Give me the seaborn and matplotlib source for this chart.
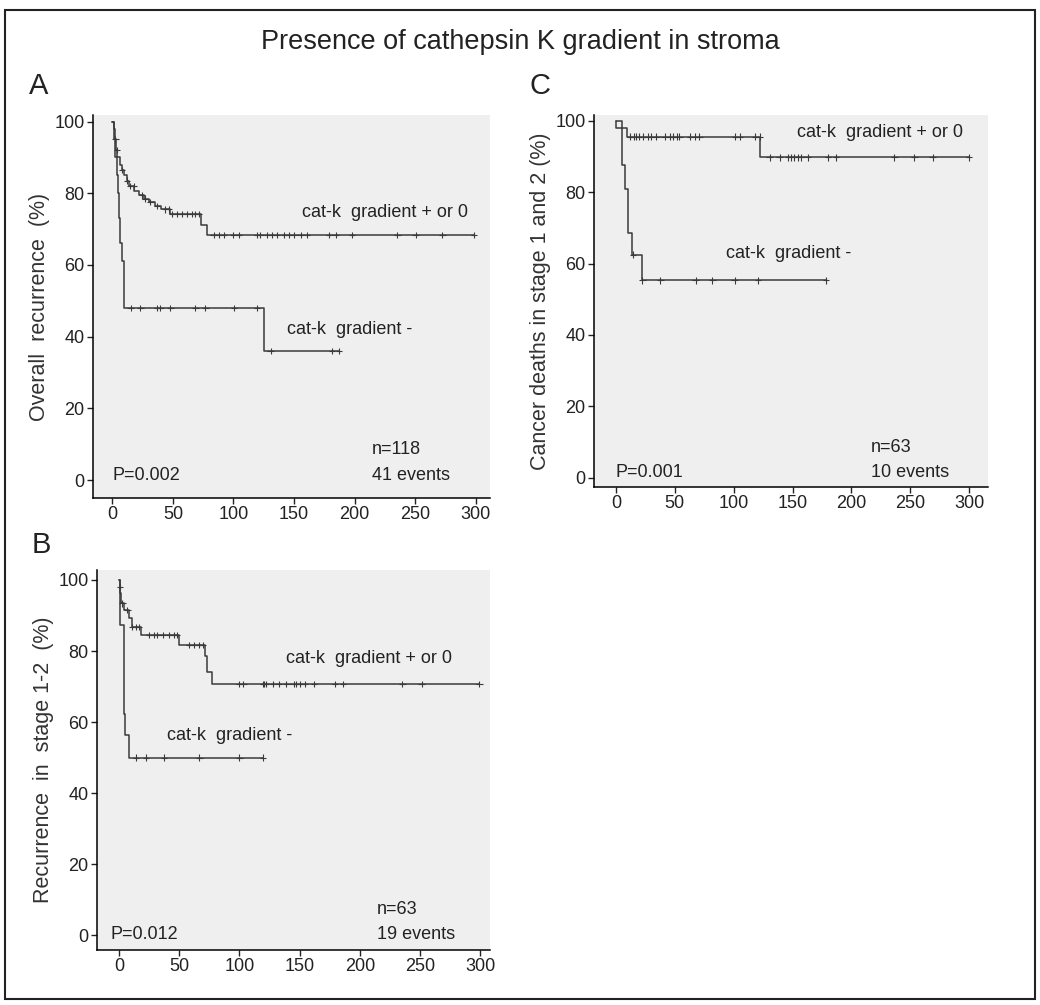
import numpy as np
import pandas as pd
import seaborn as sns
import matplotlib.pyplot as plt
from matplotlib.patches import Rectangle

# Panel A: overall recurrence
a_pos_t = [0, 1, 2, 3, 4, 6, 8, 10, 12, 14, 18, 22, 26, 30, 35, 40, 48, 73, 78]
a_pos_s = [100, 98, 95, 92, 90, 88, 86.5, 85, 83.5, 82, 80.5, 79.4, 78.5, 77.5, 76.5, 75.5, 74.2, 71, 68.3]
a_pos_c = [2.5, 3.9, 8, 12, 14.9, 17.6, 24.5, 27.3, 31.4, 37, 43.8, 46.6, 49.4, 53.4, 57.6, 61.7,
           65.8, 68.6, 71.3, 83.7, 87.9, 92, 100, 104.4, 119.6, 122.3, 127.9, 132, 136, 141.6,
           145.7, 149.8, 155.4, 160.9, 178.8, 184.3, 198, 235.3, 250.4, 272.5, 298.6]
a_neg_t = [0, 1.5, 2.5, 3.5, 4.5, 5.5, 6.5, 8, 9.5, 125]
a_neg_s = [100, 95, 90, 85, 80, 73, 66, 61, 48, 36]
a_neg_c = [15, 23.1, 36.9, 39.7, 48, 68.6, 76.9, 100.3, 119.6, 130.6, 181.5, 187]

# Panel B: recurrence in stage 1-2
b_pos_t = [0, 0.5, 1, 2, 4.2, 8.3, 11.1, 18, 50, 71, 73, 77.2]
b_pos_s = [100, 98, 96.3, 93.4, 91.5, 89.2, 86.8, 84.5, 81.7, 78.5, 74.2, 70.7]
b_pos_c = [0.8, 2.8, 7, 11.1, 13.9, 16.7, 25, 29.2, 31.9, 36.1, 41.7, 45.8, 47.8, 58.3, 62.5,
           66.7, 69.5, 100, 103.3, 119.4, 120.8, 122.2, 127.8, 132.8, 138.9, 145, 147.2, 150,
           154.2, 161.9, 179.2, 186.1, 235.3, 251.4, 299.4]
b_neg_t = [0, 1, 3.9, 5.3, 8.3]
b_neg_s = [100, 87.3, 62.4, 56.3, 50]
b_neg_c = [13.9, 22.2, 37.5, 66.7, 100, 119.4]

# Panel C: cancer deaths in stage 1 and 2
c_pos_t = [0, 4.8, 9.5, 122.6]
c_pos_s = [100, 97.9, 95.5, 89.7]
c_pos_c = [12, 15, 17.5, 20, 23, 27, 30, 34.5, 41.5, 46, 48.5, 51.5, 54, 63, 67, 71, 101, 105,
           118, 122, 130.5, 139, 146, 149, 151.5, 154.5, 157.5, 163, 180, 187, 236.5, 253.5,
           269, 300]
c_neg_t = [0, 0.3, 4.8, 7.6, 10.4, 13.3, 22.6]
c_neg_s = [100, 97.9, 87.5, 81, 68.5, 62.5, 55.3]
c_neg_c = [14.7, 22.6, 37.9, 67.8, 81.9, 100.8, 120.6, 178.6]

x_ticks = [0, 50, 100, 150, 200, 250, 300]
y_ticks = [0, 20, 40, 60, 80, 100]

sns.set_style("ticks")
plt.rcParams['font.family'] = ['Liberation Sans', 'DejaVu Sans']

LINE = '#3a3a3a'
TXT = '#222222'


def km_frames(times, surv, cens, group):
    t = list(times) + [max(cens[-1], times[-1])]
    s = list(surv) + [surv[-1]]
    line = pd.DataFrame({'time': t, 'surv': s, 'group': group})
    idx = np.searchsorted(times, cens, side='right') - 1
    marks = pd.DataFrame({'time': cens, 'surv': np.array(surv)[idx], 'group': group})
    return line, marks


def panel(ax, curves, xlim, ylim, ylabel, texts):
    lines, marks = [], []
    for name, (t, s, c) in curves.items():
        l, m = km_frames(t, s, c, name)
        lines.append(l)
        marks.append(m)
    ldf = pd.concat(lines)
    mdf = pd.concat(marks)
    pal = {k: LINE for k in curves}
    sns.lineplot(data=ldf, x='time', y='surv', hue='group', palette=pal, estimator=None,
                 sort=False, drawstyle='steps-post', lw=1.1, legend=False, ax=ax)
    sns.scatterplot(data=mdf, x='time', y='surv', hue='group', palette=pal, marker='+',
                    s=22, linewidth=0.8, legend=False, ax=ax, zorder=3)
    ax.set_facecolor('#efefef')
    ax.set_xlim(*xlim)
    ax.set_ylim(*ylim)
    ax.set_xticks(x_ticks)
    ax.set_yticks(y_ticks)
    ax.tick_params(direction='out', length=4, width=1, labelsize=13, colors=TXT, pad=2)
    for sp in ['top', 'right']:
        ax.spines[sp].set_visible(False)
    for sp in ['left', 'bottom']:
        ax.spines[sp].set_color('black')
        ax.spines[sp].set_linewidth(1.1)
    ax.set_xlabel('')
    ax.set_ylabel(ylabel, fontsize=15.5, color='#333333', labelpad=3)
    for x, y, s in texts:
        ax.text(x, y, s, fontsize=13, color=TXT, va='center', ha='left')


fig = plt.figure(figsize=(10.4, 10.05), dpi=100)

axA = fig.add_axes([0.0894, 0.5045, 0.3816, 0.381])
panel(axA,
      {'cat-k gradient + or 0': (a_pos_t, a_pos_s, a_pos_c),
       'cat-k gradient -': (a_neg_t, a_neg_s, a_neg_c)},
      (-16, 311.7), (-5, 101.8), 'Overall  recurrence  (%)',
      [(157, 74.5, 'cat-k  gradient + or 0'), (144, 42, 'cat-k  gradient -'),
       (214, 8.4, 'n=118'), (214, 1.4, '41 events'), (0, 1.4, 'P=0.002')])

axC = fig.add_axes([0.571, 0.5154, 0.379, 0.3702])
panel(axC,
      {'cat-k gradient + or 0': (c_pos_t, c_pos_s, c_pos_c),
       'cat-k gradient -': (c_neg_t, c_neg_s, c_neg_c)},
      (-18.7, 316), (-2.6, 101.6), 'Cancer deaths in stage 1 and 2 (%)',
      [(153.5, 96.8, 'cat-k  gradient + or 0'), (93.5, 62.8, 'cat-k  gradient -'),
       (216.6, 8.6, 'n=63'), (216.6, 1.6, '10 events'), (0, 1.6, 'P=0.001')])

axB = fig.add_axes([0.0933, 0.0547, 0.3777, 0.3781])
panel(axB,
      {'cat-k gradient + or 0': (b_pos_t, b_pos_s, b_pos_c),
       'cat-k gradient -': (b_neg_t, b_neg_s, b_neg_c)},
      (-18.3, 308), (-4.2, 102.8), 'Recurrence  in  stage 1-2  (%)',
      [(139, 77.8, 'cat-k  gradient + or 0'), (40, 56.2, 'cat-k  gradient -'),
       (214, 7.2, 'n=63'), (214, 0.2, '19 events'), (-7, 0.2, 'P=0.012')])

fig.text(0.5, 0.958, 'Presence of cathepsin K gradient in stroma', ha='center', va='center',
         fontsize=19.5, color=TXT)
fig.text(0.028, 0.914, 'A', fontsize=21, va='center', color=TXT)
fig.text(0.509, 0.914, 'C', fontsize=21, va='center', color=TXT)
fig.text(0.030, 0.458, 'B', fontsize=21, va='center', color=TXT)

fig.patches.append(Rectangle((0.005, 0.006), 0.99, 0.984, transform=fig.transFigure,
                             fill=False, edgecolor=TXT, lw=1.5))

fig.savefig('out.png', dpi=100)
